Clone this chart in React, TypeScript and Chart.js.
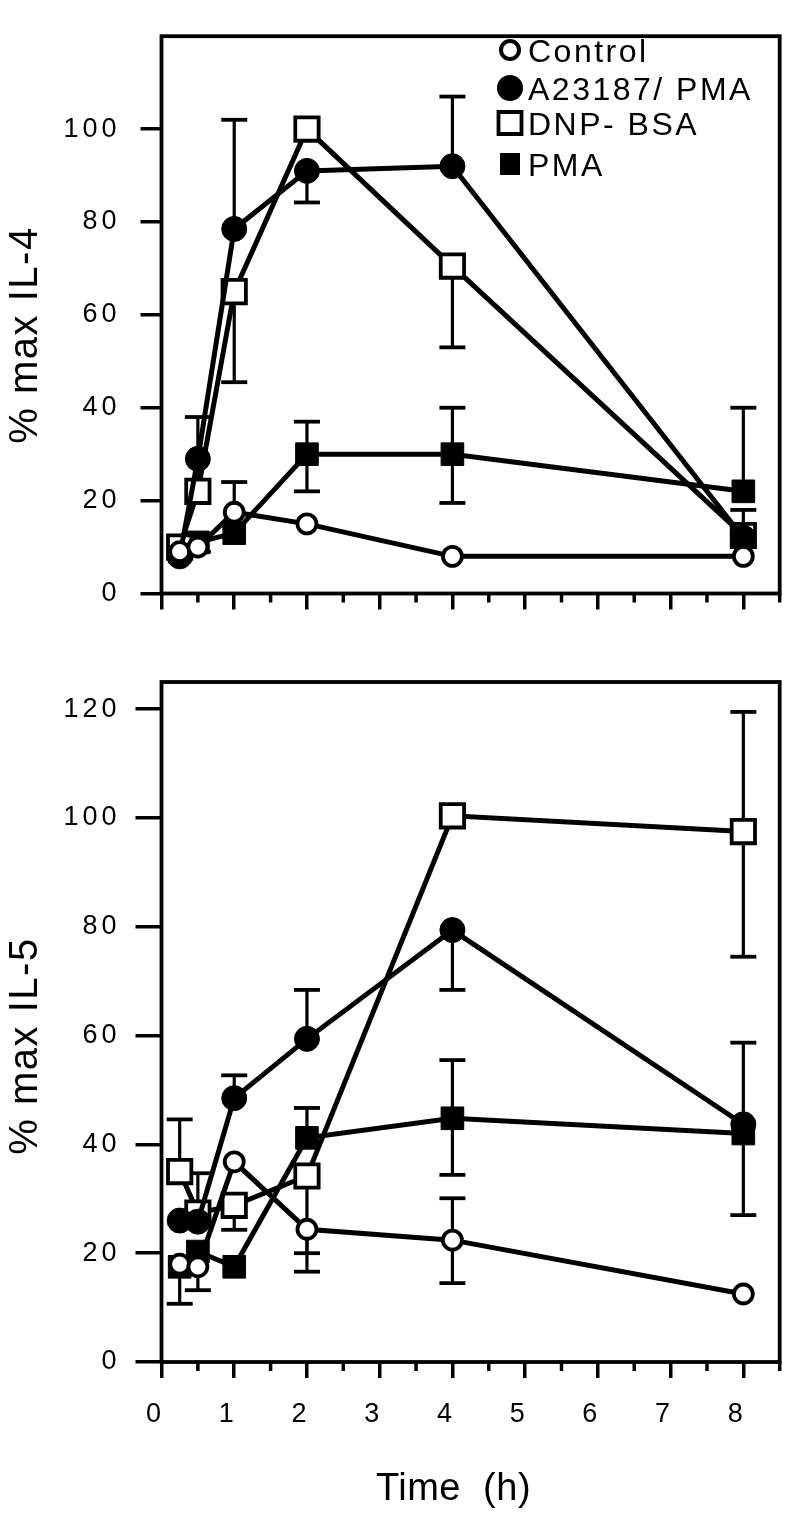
import React, { useEffect, useRef } from 'react';
import { Chart, registerables } from 'chart.js';

Chart.register(...registerables);

const FONT = '"Liberation Sans", Arial, Helvetica, sans-serif';

// ---------- data ----------
const TIMES = [0.25, 0.5, 1, 2, 4, 8];
const X_TICKS = [0, 1, 2, 3, 4, 5, 6, 7, 8];
const X_MINOR_TICKS = [0.5, 1.5, 2.5, 3.5, 4.5, 5.5, 6.5, 7.5, 8.5];
const IL4_Y_TICKS = [0, 20, 40, 60, 80, 100];
const IL5_Y_TICKS = [0, 20, 40, 60, 80, 100, 120];
const SERIES_NAMES = ['Control', 'A23187/ PMA', 'DNP- BSA', 'PMA'];

// IL-4 panel
const IL4_CONTROL = [9, 10, 17.5, 15, 8, 8];
const IL4_A23187 = [8, 29, 78.5, 91, 92, 12];
const IL4_DNP = [10, 22, 65, 100, 70.5, 12.5];
const IL4_PMA = [9, 11, 13, 30, 30, 22];
// error bars (upper / lower extent), 0 = not drawn
const IL4_CONTROL_UP = [0, 0, 6.5, 0, 0, 0];
const IL4_CONTROL_DN = [0, 0, 0, 0, 0, 0];
const IL4_A23187_UP = [0, 0, 23.5, 0, 15, 0];
const IL4_A23187_DN = [0, 0, 0, 6.8, 0, 0];
const IL4_DNP_UP = [0, 16, 0, 0, 0, 5.5];
const IL4_DNP_DN = [0, 0, 19.5, 0, 17.5, 0];
const IL4_PMA_UP = [0, 0, 0, 7, 10, 18];
const IL4_PMA_DN = [0, 2, 0, 8, 10.5, 0];

// IL-5 panel
const IL5_CONTROL = [18, 17.5, 36.8, 24.4, 22.4, 12.5];
const IL5_A23187 = [26, 25.8, 48.5, 59.4, 79.4, 43.7];
const IL5_DNP = [35, 27.4, 28.8, 34.2, 100.4, 97.5];
const IL5_PMA = [17.5, 20.3, 17.5, 41.2, 44.8, 42];
const IL5_CONTROL_UP = [0, 0, 0, 0, 7.7, 0];
const IL5_CONTROL_DN = [0, 4.3, 0, 7.8, 7.9, 0];
const IL5_A23187_UP = [0, 0, 4.2, 9, 0, 15];
const IL5_A23187_DN = [0, 0, 0, 0, 11, 0];
const IL5_DNP_UP = [9.6, 7.3, 0, 0, 0, 22];
const IL5_DNP_DN = [0, 0, 4.5, 14.2, 0, 23];
const IL5_PMA_UP = [0, 0, 0, 5.5, 10.7, 0];
const IL5_PMA_DN = [6.8, 0, 0, 0, 10.4, 15];

// ---------- styles ----------
const SERIES_STYLES = [
  { pointStyle: 'circle', radius: 9.5, fill: '#ffffff', bw: 3.8 },
  { pointStyle: 'circle', radius: 12.5, fill: '#000000', bw: 1 },
  { pointStyle: 'rect', radius: 16.5, fill: '#ffffff', bw: 3.8 },
  { pointStyle: 'rect', radius: 16, fill: '#000000', bw: 1 },
];

type Panel = {
  yTitle: string;
  yMax: number;
  yTicks: number[];
  values: number[][];
  up: number[][];
  dn: number[][];
  showXLabels: boolean;
  showLegend: boolean;
  xTitle: string | null;
  height: number;
  padTop: number;
  xAxisHeight: number;
  yTickLen: number;
  yTickPad: number;
  yTitleCenter: number;
};

const PANEL_IL4: Panel = {
  yTitle: '% max IL-4',
  yMax: 120,
  yTicks: IL4_Y_TICKS,
  values: [IL4_CONTROL, IL4_A23187, IL4_DNP, IL4_PMA],
  up: [IL4_CONTROL_UP, IL4_A23187_UP, IL4_DNP_UP, IL4_PMA_UP],
  dn: [IL4_CONTROL_DN, IL4_A23187_DN, IL4_DNP_DN, IL4_PMA_DN],
  showXLabels: false,
  showLegend: true,
  xTitle: null,
  height: 640,
  padTop: 17,
  xAxisHeight: 46.5,
  yTickLen: 21,
  yTickPad: 20,
  yTitleCenter: 335,
};

const PANEL_IL5: Panel = {
  yTitle: '% max IL-5',
  yMax: 125,
  yTicks: IL5_Y_TICKS,
  values: [IL5_CONTROL, IL5_A23187, IL5_DNP, IL5_PMA],
  up: [IL5_CONTROL_UP, IL5_A23187_UP, IL5_DNP_UP, IL5_PMA_UP],
  dn: [IL5_CONTROL_DN, IL5_A23187_DN, IL5_DNP_DN, IL5_PMA_DN],
  showXLabels: true,
  showLegend: false,
  xTitle: 'Time  (h)',
  height: 884,
  padTop: 42,
  xAxisHeight: 162,
  yTickLen: 26,
  yTickPad: 15,
  yTitleCenter: 406,
};

function decorPlugin(panel: Panel) {
  return {
    id: 'decor',
    beforeDraw(chart: any) {
      chart.ctx.letterSpacing = '4px';
    },
    beforeDatasetsDraw(chart: any) {
      const ctx = chart.ctx;
      const a = chart.chartArea;
      const xs = chart.scales.x;
      const ys = chart.scales.y;
      ctx.save();
      ctx.strokeStyle = '#000';
      ctx.lineWidth = 3.8;
      ctx.strokeRect(a.left, a.top, a.right - a.left, a.bottom - a.top);
      // minor ticks
      ctx.lineWidth = 3.5;
      ctx.beginPath();
      X_MINOR_TICKS.forEach((v) => {
        const px = xs.getPixelForValue(v);
        ctx.moveTo(px, a.bottom);
        ctx.lineTo(px, a.bottom + 9);
      });
      ctx.stroke();
      // error bars
      panel.values.forEach((vals, i) => {
        const meta = chart.getDatasetMeta(i);
        vals.forEach((v, j) => {
          const pt = meta.data[j];
          if (!pt) return;
          const x = pt.x;
          const y0 = ys.getPixelForValue(v);
          const ends: number[] = [];
          if (panel.up[i][j] > 0) ends.push(ys.getPixelForValue(v + panel.up[i][j]));
          if (panel.dn[i][j] > 0) ends.push(ys.getPixelForValue(v - panel.dn[i][j]));
          ends.forEach((ye) => {
            ctx.lineWidth = 3.2;
            ctx.beginPath();
            ctx.moveTo(x, y0);
            ctx.lineTo(x, ye);
            ctx.stroke();
            ctx.lineWidth = 3.8;
            ctx.beginPath();
            ctx.moveTo(x - 13, ye);
            ctx.lineTo(x + 13, ye);
            ctx.stroke();
          });
        });
      });
      ctx.restore();
    },
    afterDraw(chart: any) {
      const ctx = chart.ctx;
      const a = chart.chartArea;
      ctx.save();
      ctx.fillStyle = '#000';
      ctx.strokeStyle = '#000';
      // y title
      ctx.save();
      ctx.letterSpacing = '1.5px';
      ctx.font = `40px ${FONT}`;
      ctx.textAlign = 'center';
      ctx.textBaseline = 'alphabetic';
      ctx.translate(37, panel.yTitleCenter);
      ctx.rotate(-Math.PI / 2);
      ctx.fillText(panel.yTitle, 0, 0);
      ctx.restore();
      // x title
      if (panel.xTitle) {
        ctx.save();
        ctx.letterSpacing = '0.5px';
        ctx.font = `38px ${FONT}`;
        ctx.textAlign = 'center';
        ctx.textBaseline = 'alphabetic';
        ctx.fillText(panel.xTitle, 453.5, a.bottom + 138);
        ctx.restore();
      }
      // legend
      if (panel.showLegend) {
        const baselines = [62, 100, 135, 176];
        const mx = 510;
        SERIES_NAMES.forEach((name, i) => {
          const cy = baselines[i] - 12;
          ctx.save();
          if (i === 0) {
            ctx.lineWidth = 4;
            ctx.fillStyle = '#fff';
            ctx.beginPath();
            ctx.arc(mx, cy, 9, 0, Math.PI * 2);
            ctx.fill();
            ctx.stroke();
          } else if (i === 1) {
            ctx.beginPath();
            ctx.arc(mx, cy, 13, 0, Math.PI * 2);
            ctx.fill();
          } else if (i === 2) {
            ctx.lineWidth = 3.8;
            ctx.fillStyle = '#fff';
            ctx.beginPath();
            ctx.rect(mx - 11.5, cy - 11, 23, 22);
            ctx.fill();
            ctx.stroke();
          } else {
            ctx.fillRect(mx - 10, cy - 11, 20, 22);
          }
          ctx.restore();
          ctx.save();
          ctx.letterSpacing = '2.5px';
          ctx.font = `32px ${FONT}`;
          ctx.textAlign = 'left';
          ctx.textBaseline = 'alphabetic';
          ctx.fillText(name, 528, baselines[i]);
          ctx.restore();
        });
      }
      ctx.restore();
    },
  };
}

function buildConfig(panel: Panel): any {
  const datasets = panel.values.map((vals, i) => {
    const st = SERIES_STYLES[i];
    return {
      label: SERIES_NAMES[i],
      data: TIMES.map((t, j) => ({ x: t, y: vals[j] })),
      borderColor: '#000',
      borderWidth: 5,
      backgroundColor: st.fill,
      pointStyle: st.pointStyle,
      pointRadius: st.radius,
      pointBackgroundColor: st.fill,
      pointBorderColor: '#000',
      pointBorderWidth: st.bw,
      tension: 0,
      fill: false,
      clip: false,
    };
  });
  return {
    type: 'line',
    data: { datasets },
    options: {
      responsive: false,
      animation: false,
      events: [],
      layout: { padding: { top: panel.padTop, right: 13, left: 0, bottom: 0 } },
      plugins: {
        legend: { display: false },
        tooltip: { enabled: false },
        title: { display: false },
      },
      scales: {
        x: {
          type: 'linear',
          min: 0,
          max: 8.5,
          afterBuildTicks: (axis: any) => {
            axis.ticks = X_TICKS.map((v) => ({ value: v }));
          },
          afterFit: (s: any) => {
            s.height = panel.xAxisHeight;
          },
          border: { display: false },
          grid: {
            drawOnChartArea: false,
            drawTicks: true,
            tickLength: 16,
            tickWidth: 3.5,
            tickColor: '#000',
            color: '#000',
            lineWidth: 3.5,
          },
          ticks: {
            display: panel.showXLabels,
            color: '#000',
            font: { family: FONT, size: 27 },
            padding: 20,
            labelOffset: -6,
            maxRotation: 0,
            autoSkip: false,
          },
        },
        y: {
          type: 'linear',
          min: 0,
          max: panel.yMax,
          afterBuildTicks: (axis: any) => {
            axis.ticks = panel.yTicks.map((v) => ({ value: v }));
          },
          afterFit: (s: any) => {
            s.width = 161.5;
          },
          border: { display: false },
          grid: {
            drawOnChartArea: false,
            drawTicks: true,
            tickLength: panel.yTickLen,
            tickWidth: 3.5,
            tickColor: '#000',
            color: '#000',
            lineWidth: 3.5,
          },
          ticks: {
            color: '#000',
            font: { family: FONT, size: 27 },
            padding: panel.yTickPad,
          },
        },
      },
    },
    plugins: [decorPlugin(panel)],
  };
}

function PanelChart({ panel, top }: { panel: Panel; top: number }) {
  const ref = useRef<HTMLCanvasElement | null>(null);
  useEffect(() => {
    if (!ref.current) return;
    const chart = new Chart(ref.current, buildConfig(panel));
    return () => chart.destroy();
  }, [panel]);
  return (
    <canvas
      ref={ref}
      width={800}
      height={panel.height}
      style={{ position: 'absolute', left: 0, top, width: 800, height: panel.height, display: 'block' }}
    />
  );
}

export default function App() {
  return (
    <div style={{ position: 'absolute', left: 0, top: 0, width: 800, height: 1524, background: '#fff' }}>
      <PanelChart panel={PANEL_IL4} top={0} />
      <PanelChart panel={PANEL_IL5} top={640} />
    </div>
  );
}
